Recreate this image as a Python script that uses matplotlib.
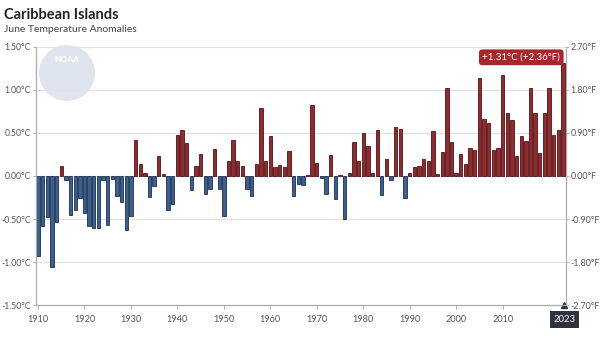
import matplotlib.pyplot as plt
from matplotlib.patches import Circle

plt.rcParams['font.family'] = ['Lato', 'DejaVu Sans']

# June anomalies (deg C), Caribbean Islands, 1910-2023
years = list(range(1910, 2024))
anomaly_c = [
    -0.93, -0.58, -0.48, -1.06, -0.53, 0.12, -0.05, -0.45, -0.40, -0.26,
    -0.43, -0.58, -0.61, -0.60, -0.05, -0.57, -0.03, -0.23, -0.30, -0.63,
    -0.46, 0.42, 0.14, 0.03, -0.25, -0.12, 0.23, 0.02, -0.39, -0.32,
    0.48, 0.54, 0.38, -0.16, 0.12, 0.25, -0.21, -0.15, 0.31, -0.15,
    -0.46, 0.18, 0.42, 0.17, 0.12, -0.15, -0.23, 0.14, 0.79, 0.18,
    0.46, 0.10, 0.125, 0.10, 0.29, -0.23, -0.09, -0.11, 0.01, 0.82,
    0.15, -0.02, -0.21, 0.24, -0.27, 0.01, -0.50, 0.04, 0.39, 0.18,
    0.50, 0.35, 0.04, 0.54, -0.22, 0.20, -0.05, 0.57, 0.55, -0.26,
    0.04, 0.11, 0.12, 0.20, 0.18, 0.52, 0.02, 0.28, 1.02, 0.39,
    0.03, 0.25, 0.14, 0.32, 0.30, 1.14, 0.66, 0.62, 0.30, 0.33,
    1.18, 0.73, 0.65, 0.23, 0.46, 0.41, 1.02, 0.73, 0.27, 0.73,
    1.02, 0.48, 0.54, 1.31,
]

c_ticks = [-1.5, -1.0, -0.5, 0.0, 0.5, 1.0, 1.5]
c_labels = ["-1.50°C", "-1.00°C", "-0.50°C", "0.00°C", "0.50°C", "1.00°C", "1.50°C"]
f_labels = ["-2.70°F", "-1.80°F", "-0.90°F", "0.00°F", "0.90°F", "1.80°F", "2.70°F"]
x_ticks = [1910, 1920, 1930, 1940, 1950, 1960, 1970, 1980, 1990, 2000, 2010]

RED, RED_EDGE = "#922a2f", "#4e1416"
BLUE, BLUE_EDGE = "#3b5f8e", "#1b2f4c"
GRID = "#e2e2e2"
TXT = "#555555"

fig = plt.figure(figsize=(6, 3.38), dpi=100)
ax = fig.add_axes([0.0595, 0.0976, 0.8835, 0.7634])

# faint NOAA watermark
ax_logo = fig.add_axes([0, 0, 1, 1], zorder=0)
ax_logo.set_xlim(0, 600)
ax_logo.set_ylim(338, 0)
ax_logo.axis("off")
ax_logo.add_patch(Circle((67, 73), 28, color="#d6dfeb", alpha=0.8, lw=0))
ax_logo.text(67, 60, "NOAA", color="white", fontsize=6, ha="center",
             va="center", fontweight="bold")
ax.set_zorder(1)
ax.patch.set_alpha(0)

colors = [RED if v >= 0 else BLUE for v in anomaly_c]
edges = [RED_EDGE if v >= 0 else BLUE_EDGE for v in anomaly_c]
ax.bar(years, anomaly_c, width=0.72, color=colors, edgecolor=edges, lw=0.6, zorder=3)

ax.set_xlim(1909.5, 2023.6)
ax.set_ylim(-1.5, 1.5)
ax.set_yticks(c_ticks)
ax.set_yticklabels(c_labels)
ax.set_xticks(x_ticks)
ax.set_xticklabels([str(y) for y in x_ticks])
ax.grid(axis="y", color=GRID, lw=0.8, zorder=0)
ax.axhline(0, color="#cccccc", lw=0.8, zorder=1)

ax.spines["top"].set_visible(False)
for s in ("left", "right", "bottom"):
    ax.spines[s].set_color("#aaaaaa")
    ax.spines[s].set_linewidth(0.8)
ax.tick_params(axis="y", colors="#aaaaaa", labelcolor=TXT, labelsize=6.2,
               length=2, width=0.6, pad=1.5)
ax.tick_params(axis="x", colors="#aaaaaa", labelcolor=TXT, labelsize=6.6,
               length=3, width=0.6, pad=4)

ax2 = ax.twinx()
ax2.set_ylim(-2.7, 2.7)
ax2.set_yticks([v * 1.8 for v in c_ticks])
ax2.set_yticklabels(f_labels)
ax2.spines["top"].set_visible(False)
for s in ("left", "right", "bottom"):
    ax2.spines[s].set_color("#aaaaaa")
    ax2.spines[s].set_linewidth(0.8)
ax2.tick_params(axis="y", colors="#aaaaaa", labelcolor=TXT, labelsize=6.4,
                length=2, width=0.6, pad=1.5)

fig.text(0.007, 0.975, "Caribbean Islands", fontsize=10.5, fontweight="bold",
         color="#222222", va="top")
fig.text(0.007, 0.925, "June Temperature Anomalies", fontsize=7.5,
         color="#444444", va="top")

# latest value callout
last_c = anomaly_c[-1]
ax.annotate(f"+{last_c:.2f}°C (+{last_c * 1.8:.2f}°F)", xy=(2023, last_c),
            xytext=(2022.4, 1.38), ha="right", va="center", fontsize=7,
            color="white",
            bbox=dict(boxstyle="round,pad=0.35", fc="#a6282d", ec="none"))

# highlighted year label under the axis, with a small pointer
ax.plot([2023.3], [-1.5], marker="^", ms=4, color="#2d3440", clip_on=False, zorder=6)
ax.annotate(str(years[-1]), xy=(2023.3, -1.5), xytext=(0, -7),
            textcoords="offset points", ha="center", va="top", fontsize=6.8,
            color="white", annotation_clip=False,
            bbox=dict(boxstyle="square,pad=0.4", fc="#2d3440", ec="none"),
            zorder=5)

fig.savefig("out.png", dpi=100)
